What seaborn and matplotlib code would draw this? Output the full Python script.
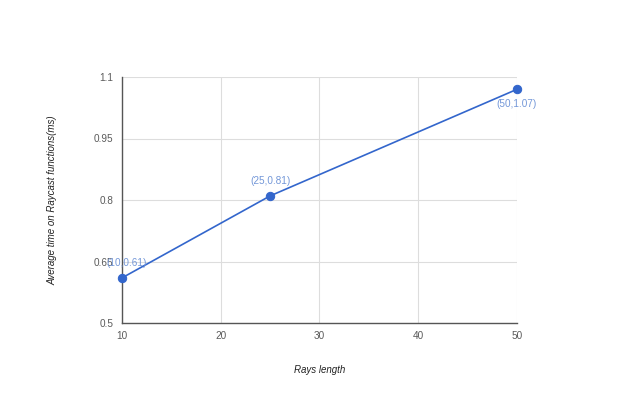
import matplotlib
matplotlib.use("Agg")
import matplotlib.pyplot as plt
import seaborn as sns
import pandas as pd

# data
rays_length = [10, 25, 50]
avg_time = [0.61, 0.81, 1.07]
x_ticks = [10, 20, 30, 40, 50]
y_ticks = [0.5, 0.65, 0.8, 0.95, 1.1]
y_tick_labels = ["0.5", "0.65", "0.8", "0.95", "1.1"]


def main():
    sns.set_style("white")
    plt.rcParams["font.family"] = ["Liberation Sans", "DejaVu Sans"]

    data = pd.DataFrame({"rays": rays_length, "time": avg_time})

    fig = plt.figure(figsize=(6.4, 4.0), dpi=100)
    ax = fig.add_axes([0.1906, 0.1925, 0.6172, 0.615])

    sns.lineplot(data=data, x="rays", y="time", ax=ax, color="#3366cc",
                 linewidth=1.2, marker="o", markersize=6,
                 markeredgecolor="#3366cc", zorder=3, clip_on=False)

    # point labels
    offsets = [(3, 7, "bottom"), (0, 7, "bottom"), (0, -7, "top")]
    for (x, y), (dx, dy, va) in zip(zip(rays_length, avg_time), offsets):
        ax.annotate(f"({x},{y:g})", (x, y), xytext=(dx, dy),
                    textcoords="offset points", ha="center", va=va,
                    fontsize=7.2, color="#7397d8")

    ax.set_xlim(10, 50)
    ax.set_ylim(0.5, 1.1)
    ax.set_xticks(x_ticks)
    ax.set_yticks(y_ticks)
    ax.set_yticklabels(y_tick_labels)
    ax.grid(True, color="#dddddd", linewidth=0.8)
    ax.tick_params(length=0, labelsize=7.2, labelcolor="#5a5a5a", pad=6)

    for side in ["top", "right"]:
        ax.spines[side].set_visible(False)
    for side in ["left", "bottom"]:
        ax.spines[side].set_color("#555555")
        ax.spines[side].set_linewidth(1)
    ax.set_axisbelow(True)

    ax.set_xlabel("Rays length", fontsize=7, style="italic",
                  color="#222222", labelpad=17)
    ax.set_ylabel("Average time on Raycast functions(ms)", fontsize=7,
                  style="italic", color="#222222", labelpad=26)

    fig.savefig("out.png", dpi=100)


if __name__ == "__main__":
    main()
